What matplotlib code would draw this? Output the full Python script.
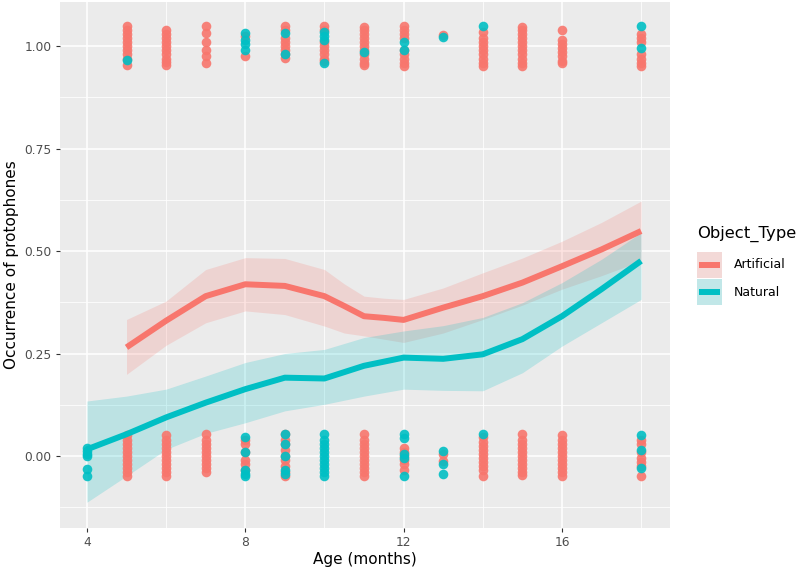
import matplotlib
matplotlib.use("Agg")
import matplotlib.pyplot as plt
from matplotlib.lines import Line2D
from matplotlib.patches import Rectangle

# smoothed fits
art_age = [5, 6, 7, 8, 9, 10, 10.5, 11, 11.5, 12, 13, 14, 15, 16, 17, 18]
art_fit = [0.265, 0.33, 0.39, 0.419, 0.415, 0.39, 0.366, 0.341, 0.337, 0.332, 0.362, 0.39, 0.423, 0.463, 0.504, 0.549]
art_lo = [0.199, 0.27, 0.325, 0.354, 0.345, 0.317, 0.30, 0.293, 0.285, 0.277, 0.30, 0.333, 0.368, 0.407, 0.44, 0.476]
art_hi = [0.333, 0.378, 0.455, 0.484, 0.482, 0.455, 0.42, 0.39, 0.385, 0.382, 0.41, 0.447, 0.483, 0.524, 0.57, 0.622]

nat_age = [4, 5, 6, 7, 8, 9, 10, 11, 12, 13, 14, 15, 16, 17, 18]
nat_fit = [0.016, 0.053, 0.094, 0.13, 0.163, 0.191, 0.189, 0.22, 0.24, 0.237, 0.248, 0.285, 0.341, 0.407, 0.476]
nat_lo = [-0.113, -0.049, 0.016, 0.055, 0.081, 0.11, 0.126, 0.146, 0.163, 0.16, 0.159, 0.203, 0.268, 0.325, 0.382]
nat_hi = [0.134, 0.146, 0.163, 0.195, 0.228, 0.25, 0.26, 0.289, 0.305, 0.318, 0.338, 0.374, 0.423, 0.48, 0.545]

# jittered raw observations (0 / 1), by age
art_pts_top = {
    5: [1.049, 1.04, 1.03, 1.02, 1.01, 1.0, 0.99, 0.98, 0.97, 0.955],
    6: [1.039, 1.03, 1.02, 1.01, 1.0, 0.99, 0.98, 0.97, 0.962, 0.955],
    7: [1.049, 1.033, 1.01, 0.99, 0.975, 0.96],
    8: [1.025, 0.976],
    9: [1.049, 1.04, 1.02, 1.01, 1.0, 0.99, 0.98, 0.972],
    10: [1.05, 1.04, 1.01, 1.0, 0.99, 0.98, 0.97, 0.965],
    11: [1.048, 1.04, 1.03, 1.02, 1.01, 1.0, 0.99, 0.98, 0.97, 0.96, 0.955],
    12: [1.05, 1.04, 1.03, 1.02, 0.99, 0.98, 0.97, 0.96, 0.953],
    13: [1.028],
    14: [1.035, 1.02, 1.01, 1.0, 0.99, 0.98, 0.97, 0.96, 0.953],
    15: [1.048, 1.04, 1.03, 1.02, 1.01, 1.0, 0.99, 0.98, 0.97, 0.96, 0.953],
    16: [1.039, 1.015, 1.005, 0.995, 0.985, 0.975, 0.965, 0.958],
    18: [1.03, 1.02, 1.01, 0.98, 0.97, 0.96, 0.953],
}
nat_pts_top = {
    5: [0.966],
    8: [1.033, 1.015, 1.005, 0.99],
    9: [1.033, 0.982],
    10: [1.035, 1.025, 1.015, 0.958],
    11: [0.985],
    12: [1.01, 0.99],
    13: [1.022],
    14: [1.05],
    18: [1.05, 0.995],
}
art_pts_bot = {
    5: [0.05, 0.04, 0.03, 0.02, 0.01, 0.0, -0.01, -0.02, -0.03, -0.04, -0.049],
    6: [0.05, 0.04, 0.03, 0.02, 0.01, 0.0, -0.01, -0.02, -0.03, -0.04, -0.049],
    7: [0.053, 0.04, 0.03, 0.02, 0.01, 0.0, -0.01, -0.02, -0.03, -0.04],
    8: [0.04, 0.03, 0.01, -0.01, -0.02, -0.035],
    9: [0.053, 0.04, 0.03, 0.015, 0.0, -0.01, -0.025, -0.04, -0.05],
    11: [0.053, 0.04, 0.03, 0.02, 0.01, 0.0, -0.01, -0.02, -0.03, -0.04, -0.049],
    12: [0.02, 0.01, 0.0, -0.01, -0.02, -0.035],
    13: [0.004, -0.012],
    14: [0.045, 0.035, 0.025, 0.015, 0.005, -0.005, -0.015, -0.025, -0.035, -0.049],
    15: [0.053, 0.04, 0.03, 0.02, 0.01, 0.0, -0.01, -0.02, -0.03, -0.04, -0.047],
    16: [0.05, 0.04, 0.03, 0.02, 0.01, 0.0, -0.01, -0.02, -0.03, -0.04, -0.05],
    18: [0.04, 0.03, 0.01, -0.005, -0.015, -0.025, -0.05],
}
nat_pts_bot = {
    4: [0.02, 0.012, 0.005, 0.0, -0.031, -0.049],
    8: [0.045, 0.01, -0.035, -0.045, -0.05],
    9: [0.053, 0.03, 0.0, -0.035, -0.045],
    10: [0.053, 0.04, 0.03, 0.02, 0.01, 0.0, -0.01, -0.02, -0.03, -0.04, -0.049],
    12: [0.053, 0.043, 0.005, -0.005, -0.05],
    13: [0.012, -0.02, -0.045],
    14: [0.053],
    18: [0.05, 0.015, -0.03],
}

groups = ["Artificial", "Natural"]
RED = "#F8766D"
TEAL = "#00BFC4"
W, H = 800, 574


def flatten(d):
    xs, ys = [], []
    for age, vals in d.items():
        xs += [age] * len(vals)
        ys += vals
    return xs, ys


fig = plt.figure(figsize=(8, 5.74), dpi=100)
ax = fig.add_axes([0.075, 0.0801, 0.7625, 0.9164])
ax.set_facecolor("#EBEBEB")

# confidence bands
ax.fill_between(art_age, art_lo, art_hi, color=RED, alpha=0.2, lw=0, zorder=2)
ax.fill_between(nat_age, nat_lo, nat_hi, color=TEAL, alpha=0.2, lw=0, zorder=2)

# raw points
for d, c in [(art_pts_top, RED), (art_pts_bot, RED), (nat_pts_top, TEAL), (nat_pts_bot, TEAL)]:
    xs, ys = flatten(d)
    ax.scatter(xs, ys, s=48, color=c, alpha=0.9, lw=0, zorder=3)

# fitted lines
ax.plot(art_age, art_fit, color=RED, lw=4.3, solid_capstyle="butt", zorder=4)
ax.plot(nat_age, nat_fit, color=TEAL, lw=4.3, solid_capstyle="butt", zorder=4)

ax.set_xlim(3.32, 18.73)
ax.set_ylim(-0.176, 1.108)
ax.set_xticks([4, 8, 12, 16])
ax.set_xticks([6, 10, 14, 18], minor=True)
ax.set_yticks([0, 0.25, 0.5, 0.75, 1.0])
ax.set_yticklabels(["0.00", "0.25", "0.50", "0.75", "1.00"])
ax.set_yticks([-0.125, 0.125, 0.375, 0.625, 0.875], minor=True)
ax.grid(which="major", color="white", lw=1.1, zorder=0)
ax.grid(which="minor", color="white", lw=0.55, zorder=0)
ax.set_axisbelow(True)
for s in ax.spines.values():
    s.set_visible(False)
ax.tick_params(which="major", length=3, color="#333333", labelsize=8.8, labelcolor="#4D4D4D", pad=3)
ax.tick_params(which="minor", length=0)

ax.set_xlabel("Age (months)", fontsize=11, color="black", labelpad=2)
ax.set_ylabel("Occurrence of protophones", fontsize=11, color="black", labelpad=4)

# legend, drawn by hand ggplot-style
fig.text(697 / W, 1 - 234 / H, "Object_Type", fontsize=11.8, va="center", ha="left")
for i, (name, c) in enumerate(zip(groups, [RED, TEAL])):
    top = 252 + i * 27
    fig.add_artist(Rectangle((697 / W, 1 - (top + 26) / H), 25 / W, 26 / H,
                             transform=fig.transFigure, facecolor="#F2F2F2", lw=0))
    fig.add_artist(Rectangle((697 / W, 1 - (top + 26) / H), 25 / W, 26 / H,
                             transform=fig.transFigure, facecolor=c, alpha=0.2, lw=0))
    yc = 1 - (top + 13) / H
    fig.add_artist(Line2D([699 / W, 720 / W], [yc, yc], transform=fig.transFigure,
                          color=c, lw=4.3, solid_capstyle="butt"))
    fig.text(734 / W, yc, name, fontsize=9, va="center", ha="left")

fig.savefig("out.png", dpi=100)
